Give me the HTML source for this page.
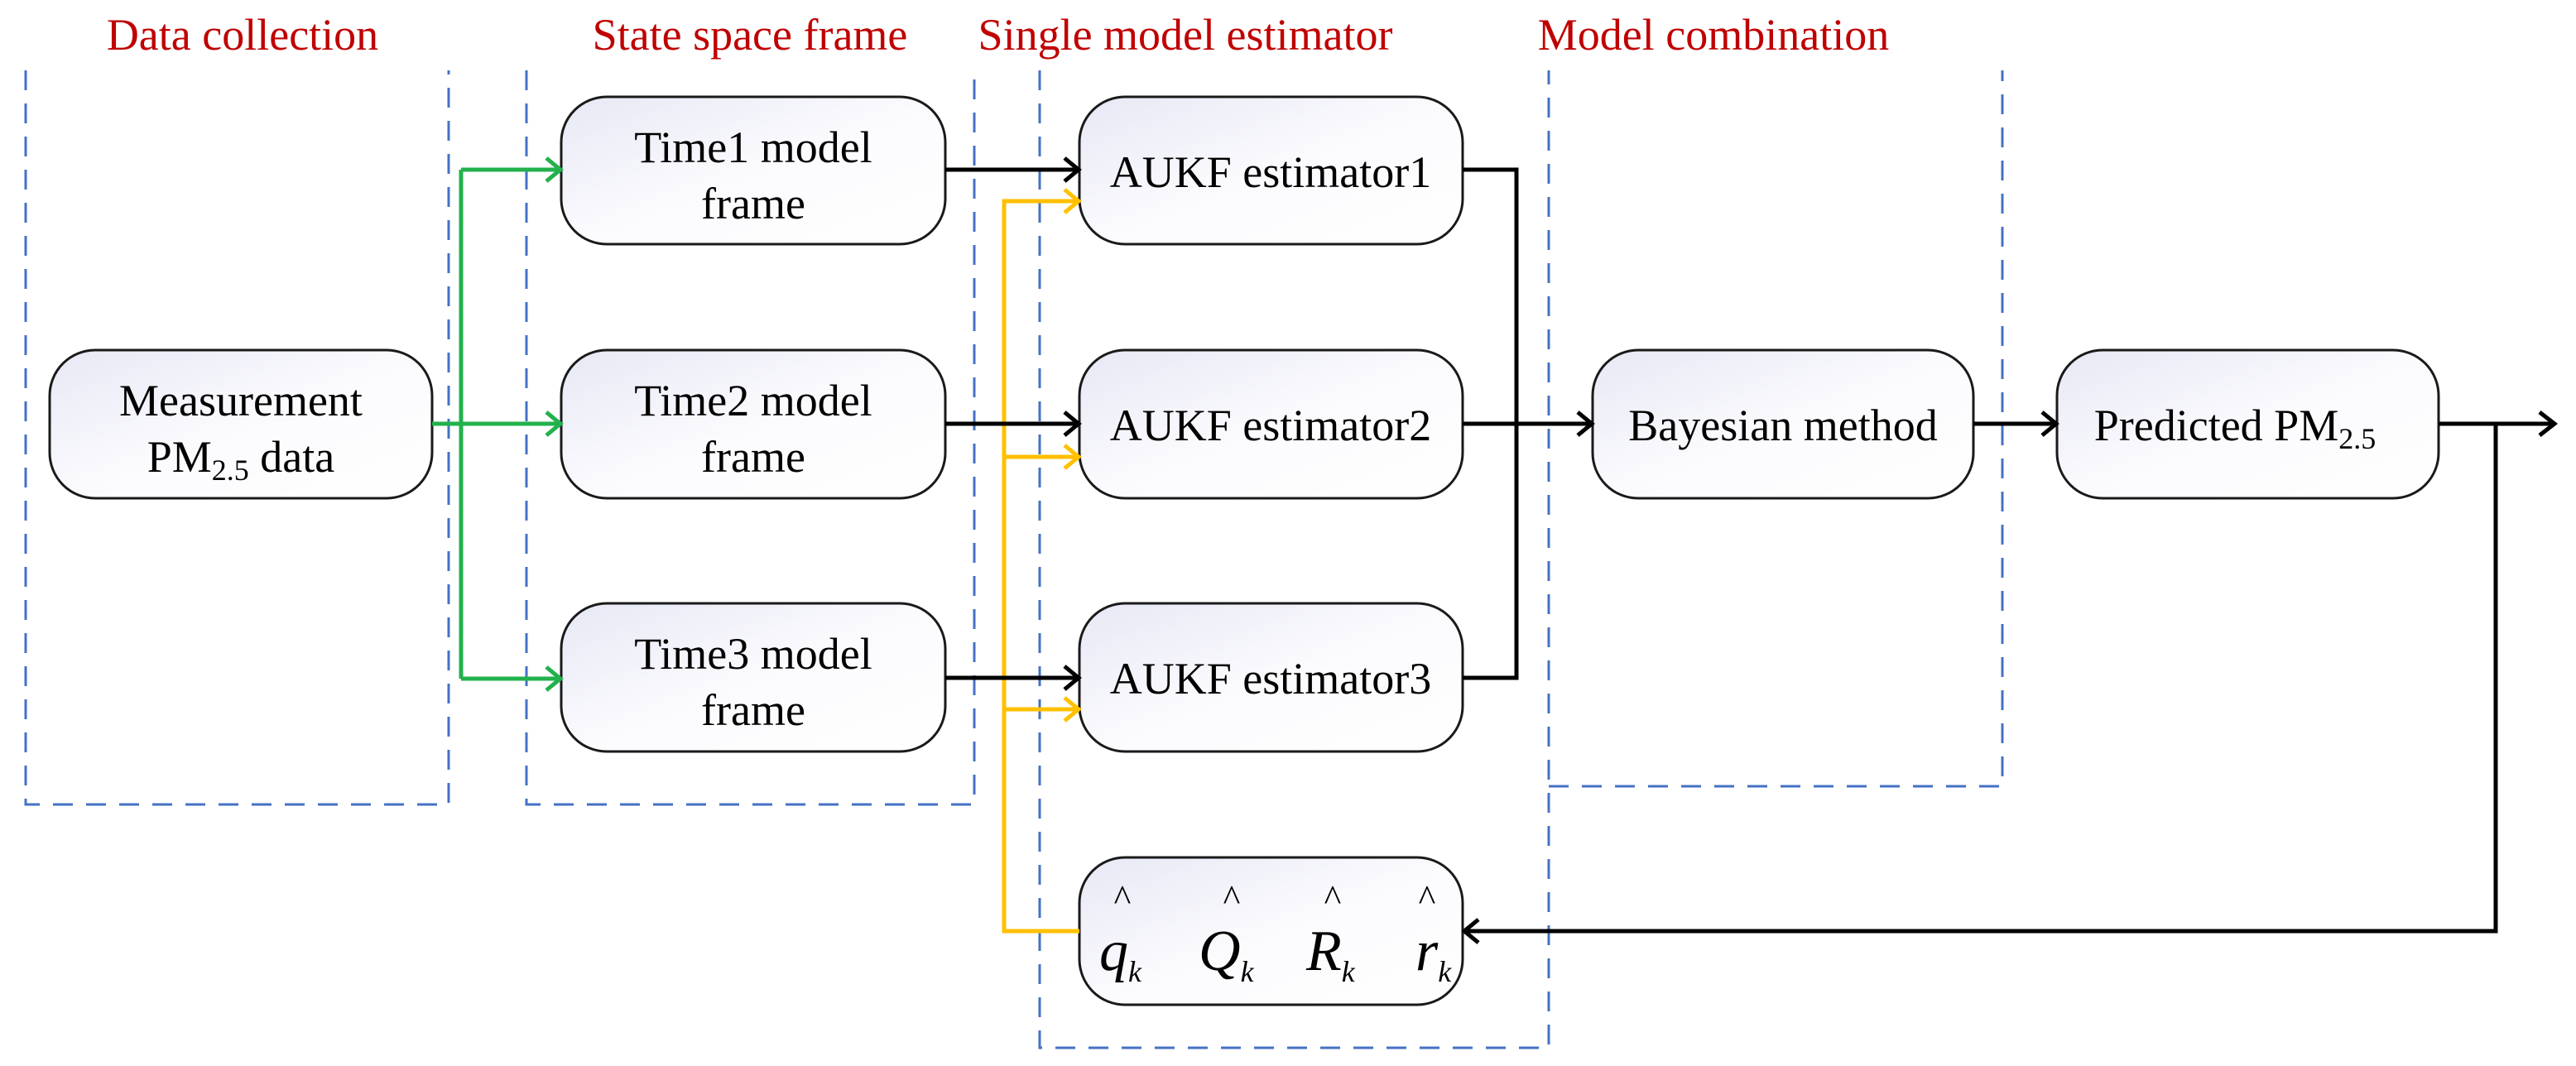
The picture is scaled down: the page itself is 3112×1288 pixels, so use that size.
<!DOCTYPE html>
<html><head><meta charset="utf-8"><style>html,body{margin:0;padding:0;background:#fff}svg{display:block}</style></head>
<body>
<svg width="3112" height="1288" viewBox="0 0 3112 1288" xmlns="http://www.w3.org/2000/svg" font-family="'Liberation Serif', serif">
<defs>
<linearGradient id="g" x1="0" y1="0" x2="1" y2="1">
<stop offset="0" stop-color="#e6e8f4"/><stop offset="0.5" stop-color="#fbfbfe"/><stop offset="1" stop-color="#ffffff"/>
</linearGradient>
</defs>
<g fill="#c00000" font-size="54" text-anchor="middle">
<text x="293" y="60">Data collection</text>
<text x="906" y="60">State space frame</text>
<text x="1432" y="60">Single model estimator</text>
<text x="2070" y="60">Model combination</text>
</g>
<g fill="none" stroke="#4472c4" stroke-width="3" stroke-dasharray="24,16">
<path d="M31,85 V972 H542 V85"/>
<path d="M636,85 V972 H1177 V85"/>
<path d="M1256,85 V1266 H1871 V85"/>
<path d="M1871,950 H2419 V85"/>
</g>
<g fill="url(#g)" stroke="#1a1a1a" stroke-width="3">
<rect x="60" y="423" width="462" height="179" rx="55"/>
<rect x="678" y="117" width="464" height="178" rx="55"/>
<rect x="678" y="423" width="464" height="179" rx="55"/>
<rect x="678" y="729" width="464" height="179" rx="55"/>
<rect x="1304" y="117" width="463" height="178" rx="55"/>
<rect x="1304" y="423" width="463" height="179" rx="55"/>
<rect x="1304" y="729" width="463" height="179" rx="55"/>
<rect x="1304" y="1036" width="463" height="178" rx="55"/>
<rect x="1924" y="423" width="460" height="179" rx="55"/>
<rect x="2485" y="423" width="461" height="179" rx="55"/>
</g>
<g font-size="54" text-anchor="middle" fill="#000">
<text x="291" y="502">Measurement</text>
<text x="291" y="570">PM<tspan font-size="36" dy="10">2.5</tspan><tspan dy="-10"> data</tspan></text>
<text x="910" y="196">Time1 model</text><text x="910" y="264">frame</text>
<text x="910" y="502">Time2 model</text><text x="910" y="570">frame</text>
<text x="910" y="808">Time3 model</text><text x="910" y="876">frame</text>
<text x="1535" y="226">AUKF estimator1</text>
<text x="1535" y="532">AUKF estimator2</text>
<text x="1535" y="838">AUKF estimator3</text>
<text x="2154" y="532">Bayesian method</text>
<text x="2700" y="532">Predicted PM<tspan font-size="36" dy="10">2.5</tspan></text>
</g>
<g font-size="70" font-style="italic" fill="#000">
<text x="1328" y="1172">q<tspan font-size="36" dy="14">k</tspan></text>
<text x="1448" y="1172">Q<tspan font-size="36" dy="14">k</tspan></text>
<text x="1578" y="1172">R<tspan font-size="36" dy="14">k</tspan></text>
<text x="1710" y="1172">r<tspan font-size="36" dy="14">k</tspan></text>
</g>
<g font-size="44" fill="#000" text-anchor="middle">
<text x="1356" y="1100">^</text><text x="1488" y="1100">^</text><text x="1610" y="1100">^</text><text x="1724" y="1100">^</text>
</g>
<g fill="none" stroke="#22b14c" stroke-width="5">
<path d="M522,512 H676 M557,205 V820 M557,205 H676 M557,820 H676"/>
<path d="M660,191 L677,205 L660,219 M660,498 L677,512 L660,526 M660,806 L677,820 L660,834"/>
</g>
<g fill="none" stroke="#ffc000" stroke-width="5">
<path d="M1304,1125 H1213 V243 H1302 M1213,552 H1302 M1213,857 H1302"/>
<path d="M1286,229 L1303,243 L1286,257 M1286,538 L1303,552 L1286,566 M1286,843 L1303,857 L1286,871"/>
</g>
<g fill="none" stroke="#000" stroke-width="5">
<path d="M1142,205 H1302 M1142,512 H1302 M1142,819 H1302"/>
<path d="M1286,191 L1303,205 L1286,219 M1286,498 L1303,512 L1286,526 M1286,805 L1303,819 L1286,833"/>
<path d="M1767,205 H1832 V819 H1767 M1767,512 H1922"/>
<path d="M1906,498 L1923,512 L1906,526"/>
<path d="M2384,512 H2483 M2467,498 L2484,512 L2467,526"/>
<path d="M2946,512 H3085 M3068,498 L3086,512 L3068,526"/>
<path d="M3015,512 V1125 H1770 M1786,1111 L1769,1125 L1786,1139"/>
</g>
</svg>
</body></html>
